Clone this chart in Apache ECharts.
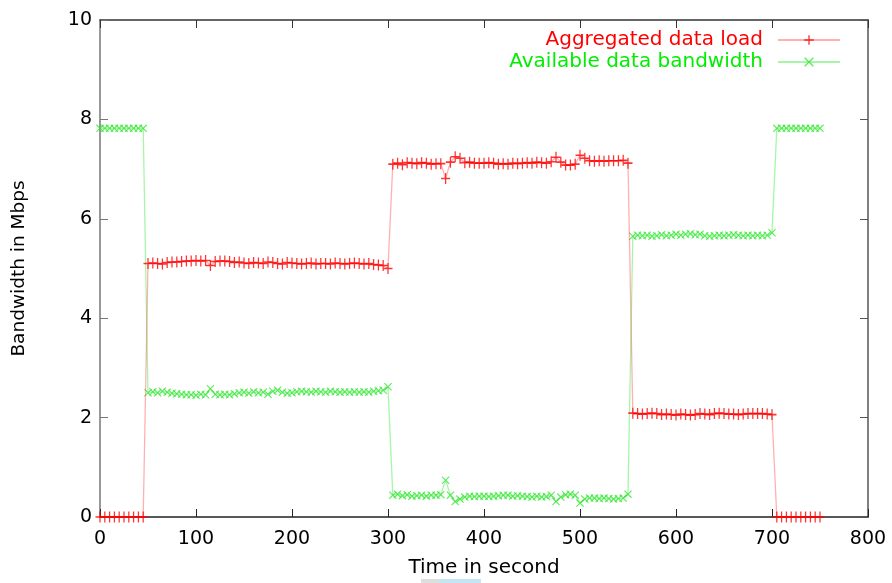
<!DOCTYPE html>
<html lang="en">
<head>
    <meta charset="UTF-8">
    <title>Bandwidth</title>
    <script src="https://cdn.jsdelivr.net/npm/echarts@6/dist/echarts.min.js"></script>
    <style>
        html, body { margin: 0; padding: 0; background: #fff; }
    </style>
</head>
<body>
<div id="chart" style="width:892px;height:583px;"></div>
<script>
    // sampled every 5 seconds, from t = 0 to t = 750
    var STEP = 5;

    var loadValues = [
        0, 0, 0, 0, 0, 0, 0, 0, 0, 0,
        5.10, 5.11, 5.10, 5.09, 5.12, 5.13, 5.13, 5.14, 5.15, 5.15,
        5.16, 5.15, 5.16, 5.06, 5.14, 5.15, 5.15, 5.14, 5.12, 5.13,
        5.11, 5.10, 5.12, 5.11, 5.10, 5.13, 5.12, 5.10, 5.09, 5.12,
        5.11, 5.10, 5.09, 5.10, 5.11, 5.09, 5.10, 5.10, 5.09, 5.11,
        5.10, 5.09, 5.10, 5.11, 5.10, 5.09, 5.10, 5.08, 5.07, 5.06,
        5.00,
        7.10, 7.12, 7.09, 7.13, 7.12, 7.11, 7.13, 7.12, 7.10, 7.11,
        7.11, 6.81, 7.14, 7.25, 7.22, 7.13, 7.14, 7.12, 7.12, 7.12,
        7.13, 7.12, 7.10, 7.11, 7.10, 7.12, 7.11, 7.12, 7.13, 7.12,
        7.14, 7.13, 7.12, 7.15, 7.24, 7.14, 7.08, 7.08, 7.10, 7.28,
        7.22, 7.17, 7.16, 7.17, 7.16, 7.17, 7.17, 7.17, 7.18, 7.12,
        2.09, 2.08, 2.07, 2.08, 2.09, 2.08, 2.06, 2.07, 2.06, 2.05,
        2.07, 2.06, 2.05, 2.06, 2.08, 2.07, 2.06, 2.08, 2.09, 2.08,
        2.07, 2.07, 2.06, 2.07, 2.08, 2.08, 2.08, 2.08, 2.07, 2.06,
        0, 0, 0, 0, 0, 0, 0, 0, 0, 0
    ];

    var bandwidthValues = [
        7.82, 7.82, 7.82, 7.82, 7.82, 7.82, 7.82, 7.82, 7.82, 7.82,
        2.50, 2.52, 2.50, 2.53, 2.51, 2.49, 2.48, 2.47, 2.46, 2.46,
        2.45, 2.47, 2.46, 2.58, 2.47, 2.46, 2.47, 2.46, 2.48, 2.50,
        2.51, 2.49, 2.52, 2.50, 2.51, 2.47, 2.53, 2.55, 2.51, 2.49,
        2.50, 2.52, 2.53, 2.52, 2.51, 2.53, 2.52, 2.51, 2.53, 2.52,
        2.51, 2.52, 2.51, 2.52, 2.51, 2.52, 2.51, 2.53, 2.54, 2.55,
        2.62,
        0.44, 0.46, 0.43, 0.45, 0.42, 0.43, 0.44, 0.42, 0.44, 0.44,
        0.45, 0.74, 0.44, 0.31, 0.36, 0.40, 0.42, 0.41, 0.42, 0.42,
        0.41, 0.42, 0.43, 0.44, 0.44, 0.42, 0.43, 0.42, 0.41, 0.40,
        0.42, 0.40, 0.41, 0.44, 0.31, 0.40, 0.45, 0.46, 0.44, 0.28,
        0.36, 0.38, 0.38, 0.37, 0.38, 0.37, 0.36, 0.37, 0.38, 0.46,
        5.65, 5.67, 5.66, 5.67, 5.65, 5.66, 5.68, 5.66, 5.67, 5.69,
        5.67, 5.69, 5.70, 5.68, 5.69, 5.66, 5.65, 5.66, 5.67, 5.66,
        5.67, 5.68, 5.67, 5.66, 5.67, 5.66, 5.67, 5.66, 5.67, 5.72,
        7.82, 7.82, 7.82, 7.82, 7.82, 7.82, 7.82, 7.82, 7.82, 7.82
    ];

    var seriesNames = ['Aggregated data load', 'Available data bandwidth'];
    var xTicks = [0, 100, 200, 300, 400, 500, 600, 700, 800];
    var yTicks = [0, 2, 4, 6, 8, 10];

    function toPairs(vals) {
        var out = [];
        for (var i = 0; i < vals.length; i++) {
            out.push([i * STEP, vals[i]]);
        }
        return out;
    }

    var plusIcon = 'path://M0,4.3H10V5.7H0Z M4.3,0H5.7V10H4.3Z';
    var crossIcon = 'path://M0,1L1,0L10,9L9,10Z M9,0L10,1L1,10L0,9Z';
    var font = 'DejaVu Sans, sans-serif';

    var chart = echarts.init(document.getElementById('chart'));

    function mirrorX(pos, color) {
        return {
            type: 'value',
            position: pos,
            min: xTicks[0],
            max: xTicks[xTicks.length - 1],
            interval: 100,
            axisLine: { show: true, onZero: false, lineStyle: { color: color, width: 1.5 } },
            axisTick: { show: true, inside: true, length: 8, lineStyle: { color: color } },
            splitLine: { show: false }
        };
    }
    function mirrorY(pos, color) {
        return {
            type: 'value',
            position: pos,
            min: yTicks[0],
            max: yTicks[yTicks.length - 1],
            interval: 2,
            axisLine: { show: true, onZero: false, lineStyle: { color: color, width: 1.5 } },
            axisTick: { show: true, inside: true, length: 8, lineStyle: { color: color } },
            splitLine: { show: false }
        };
    }

    var xBottom = mirrorX('bottom', '#222');
    xBottom.name = 'Time in second';
    xBottom.nameLocation = 'middle';
    xBottom.nameGap = 41;
    xBottom.nameTextStyle = { color: '#000', fontSize: 20, fontFamily: font };
    xBottom.axisLabel = { color: '#000', fontSize: 19, fontFamily: font, margin: 13 };

    var xTop = mirrorX('top', '#333');
    xTop.axisLabel = { show: false };

    var yLeft = mirrorY('left', '#777');
    yLeft.name = 'Bandwidth in Mbps';
    yLeft.nameLocation = 'middle';
    yLeft.nameGap = 71;
    yLeft.nameTextStyle = { color: '#000', fontSize: 18.5, fontFamily: font };
    yLeft.axisLabel = { color: '#000', fontSize: 19, fontFamily: font, margin: 8 };

    var yRight = mirrorY('right', '#555');
    yRight.axisLabel = { show: false };

    chart.setOption({
        animation: false,
        backgroundColor: '#fff',
        grid: { left: 100, right: 24, top: 20, bottom: 66 },
        legend: {
            right: 46,
            top: 25,
            orient: 'vertical',
            align: 'right',
            itemWidth: 62,
            itemHeight: 12,
            itemGap: 2,
            textStyle: { fontSize: 20, fontFamily: font, padding: [0, 10, 0, 0] },
            data: [
                { name: seriesNames[0], textStyle: { color: '#ff0000' } },
                { name: seriesNames[1], textStyle: { color: '#00ee00' } }
            ]
        },
        // faint screenshot artefact under the axis title
        graphic: [
            { type: 'rect', left: 421, top: 579, shape: { width: 18, height: 4 }, style: { fill: '#dedede' }, silent: true },
            { type: 'rect', left: 439, top: 579, shape: { width: 42, height: 4 }, style: { fill: '#c4e6f2' }, silent: true }
        ],
        xAxis: [xBottom, xTop],
        yAxis: [yLeft, yRight],
        series: [{
            name: seriesNames[0],
            type: 'line',
            data: toPairs(loadValues),
            symbol: plusIcon,
            symbolSize: [9, 11],
            showAllSymbol: true,
            itemStyle: { color: 'rgba(255,0,0,0.8)' },
            lineStyle: { color: 'rgba(255,60,60,0.4)', width: 1.3 },
            z: 3
        }, {
            name: seriesNames[1],
            type: 'line',
            data: toPairs(bandwidthValues),
            symbol: crossIcon,
            symbolSize: 8,
            showAllSymbol: true,
            itemStyle: { color: 'rgba(40,230,40,0.75)' },
            lineStyle: { color: 'rgba(60,235,60,0.45)', width: 1.3 },
            z: 2
        }, {
            // empty series so the mirrored top / right axes are drawn
            type: 'line',
            xAxisIndex: 1,
            yAxisIndex: 1,
            data: [],
            silent: true
        }]
    });
</script>
</body>
</html>
